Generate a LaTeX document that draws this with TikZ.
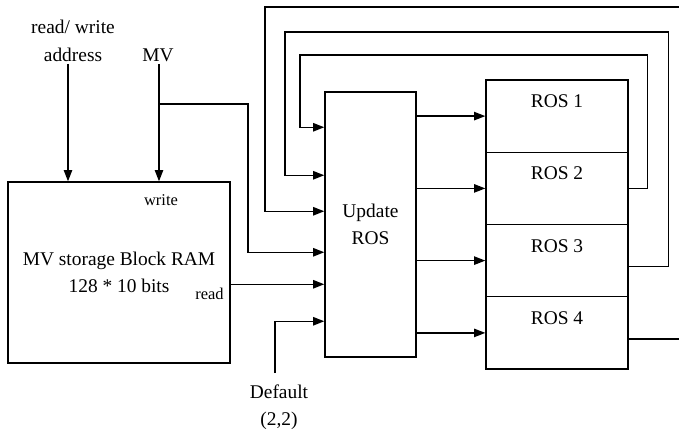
\documentclass[tikz,border=0pt]{standalone}
\usepackage{fontspec}
\setmainfont{Liberation Serif}
\usepackage{tikz}
\usetikzlibrary{arrows.meta,positioning,calc}
\tikzset{
  blk/.style={draw,line width=1pt,inner sep=0pt},
  arr/.style={-{Triangle[length=2.8mm,width=2.1mm]},line width=1pt},
  txt/.style={font=\fontsize{13.8}{19.5}\selectfont,align=center,inner sep=1.5pt},
  sml/.style={font=\fontsize{11.7}{14}\selectfont,inner sep=0pt}
}

\begin{document}
\begin{tikzpicture}[x=0.025cm,y=-0.025cm]
  \clip (0,0) rectangle (679,435);

  % memory
  \node[blk,txt,inner sep=0pt,minimum width=5.55cm,minimum height=4.525cm] (ram) at (119,272.5) {MV storage Block RAM\\128 * 10 bits};
  \node[sml] (wr) at (161,200) {write};
  \node[sml,anchor=east] (rd) at (224,294) {read};

  \node[txt] (addr) at (73,41) {read/ write\\address};
  \node[txt] (mv) at (158,55) {MV};
  \node[txt] (dflt) at (279,407) {Default\\(2,2)};

  % update and registers
  \node[blk,txt,inner sep=0pt,minimum width=2.275cm,minimum height=6.625cm] (upd) at (370.5,224.5) {Update\\ROS};
  \node[blk,minimum width=3.55cm,minimum height=1.806cm] (ros1) at (557,116.1) {};
  \node[blk,minimum width=3.55cm,minimum height=1.806cm] (ros2) at (557,188.4) {};
  \node[blk,minimum width=3.55cm,minimum height=1.806cm] (ros3) at (557,260.6) {};
  \node[blk,minimum width=3.55cm,minimum height=1.806cm] (ros4) at (557,332.9) {};
  \node[txt] (t1) at ($(ros1.north)+(0,22)$) {ROS 1};
  \node[txt] (t2) at ($(ros2.north)+(0,22)$) {ROS 2};
  \node[txt] (t3) at ($(ros3.north)+(0,22)$) {ROS 3};
  \node[txt] (t4) at ($(ros4.north)+(0,22)$) {ROS 4};

  % inputs of the memory
  \draw[arr] ([xshift=-1.25mm]addr.south) coordinate (a0) -- (a0 |- ram.north);
  \draw[arr] ([xshift=0.25mm]mv.south) coordinate (m0) -- (m0 |- ram.north);

  % inputs of update
  \draw[arr] (159,104) -- (248,104) |- ($(upd.north west)+(0,161)$);
  \draw[arr] ($(ram.north east)+(0,103)$) coordinate (r0) -- (r0 -| upd.west);
  \draw[arr] ([xshift=-1mm,yshift=2.2mm]dflt.north) |- ($(upd.north west)+(0,230)$);

  \draw[arr] (upd.east |- ros1.west) -- (ros1.west);
  \draw[arr] (upd.east |- ros2.west) -- (ros2.west);
  \draw[arr] (upd.east |- ros3.west) -- (ros3.west);
  \draw[arr] (upd.east |- ros4.west) -- (ros4.west);

  % feedback
  \draw[arr] (ros2.east) -- ++(19,0) |- (300,55) |- ($(upd.north west)+(0,36)$);
  \draw[arr] ($(ros3.east)+(0,6)$) -- ++(40,0) |- (285,32) |- ($(upd.north west)+(0,84)$);
  \draw[arr] ($(ros4.east)+(0,6)$) -- ++(62,0) |- (265,7) |- ($(upd.north west)+(0,120)$);
\end{tikzpicture}
\end{document}
